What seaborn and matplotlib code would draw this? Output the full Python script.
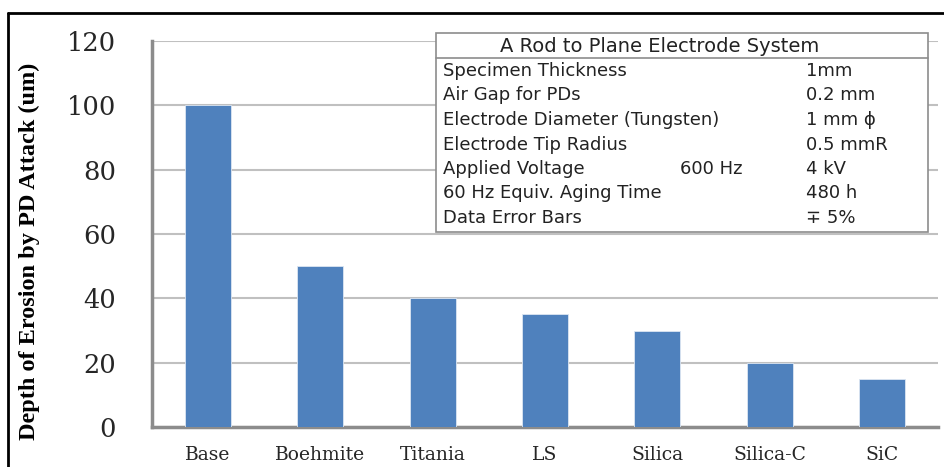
import matplotlib
matplotlib.use("Agg")
import matplotlib.pyplot as plt
import seaborn as sns
import pandas as pd
from matplotlib.patches import Rectangle
from matplotlib.lines import Line2D

W, H = 944, 467

materials = ["Base", "Boehmite", "Titania", "LS", "Silica", "Silica-C", "SiC"]
depth = [100, 50, 40, 35, 30, 20, 15]

table_title = "A Rod to Plane Electrode System"
table_labels = ["Specimen Thickness", "Air Gap for PDs", "Electrode Diameter (Tungsten)",
                "Electrode Tip Radius", "Applied Voltage", "60 Hz Equiv. Aging Time",
                "Data Error Bars"]
table_mid = ["", "", "", "", "600 Hz", "", ""]
table_values = ["1mm", "0.2 mm", "1 mm \u03d5", "0.5 mmR", "4 kV", "480 h", "\u2213 5%"]

df = pd.DataFrame({"material": materials, "depth": depth})

sns.set_style("white")
fig = plt.figure(figsize=(W / 100, H / 100), dpi=100)

def fx(px):
    return px / W

def fy(py):
    return 1 - py / H

ax = fig.add_axes([fx(152), fy(427), fx(938) - fx(152), fy(41) - fy(427)])

sns.barplot(data=df, x="material", y="depth", color="#4F81BD", saturation=1,
            width=0.41, edgecolor="#dce6f2", linewidth=0.6, ax=ax, zorder=3)

ax.set_ylim(0, 120)
ax.set_xlim(-0.5, len(materials) - 0.5)
ax.set_yticks(range(0, 121, 20))
ax.yaxis.grid(True, color="#c0c0c0", linewidth=1.5, zorder=0)
ax.set_axisbelow(True)

for side in ["top", "right"]:
    ax.spines[side].set_visible(False)
for side in ["left", "bottom"]:
    ax.spines[side].set_color("#8c8c8c")
    ax.spines[side].set_linewidth(2.5)

ax.tick_params(axis="y", direction="inout", length=10, width=2.5, color="#8c8c8c",
               pad=21, labelsize=18.5)
ax.set_xticks([i - 0.5 for i in range(len(materials) + 1)], minor=True)
ax.tick_params(axis="x", which="minor", direction="out", length=5, width=2.5, color="#8c8c8c")
ax.tick_params(axis="x", which="major", length=0, pad=14, labelsize=13.5)
for lab in ax.get_xticklabels() + ax.get_yticklabels():
    lab.set_fontfamily("DejaVu Serif")

ax.set_xlabel("")
ax.set_ylabel("Depth of Erosion by PD Attack (um)", fontfamily="Liberation Serif",
              fontweight="bold", fontsize=17.5, color="black")
ax.yaxis.set_label_coords(-0.1425, 0.456)

# info table
x0, x1, y0, y1 = 436, 928, 33, 232
ax_box = Rectangle((fx(x0), fy(y1)), fx(x1) - fx(x0), fy(y0) - fy(y1), transform=fig.transFigure,
                   facecolor="white", edgecolor="#8c8c8c", linewidth=1.2, zorder=5)
fig.patches.append(ax_box)
fig.add_artist(Line2D([fx(x0), fx(x1)], [fy(58), fy(58)], color="#8c8c8c", linewidth=1.2, zorder=6))
fig.text(fx(660), fy(46), table_title, ha="center", va="center", fontsize=14,
         family="DejaVu Sans", color="#222222", zorder=7)
row_h = 24.5
for i, (lab, mid, val) in enumerate(zip(table_labels, table_mid, table_values)):
    yc = 71 + i * row_h
    fig.text(fx(443), fy(yc), lab, ha="left", va="center", fontsize=13, family="DejaVu Sans",
             color="#222222", zorder=7)
    if mid:
        fig.text(fx(680), fy(yc), mid, ha="left", va="center", fontsize=13, family="DejaVu Sans",
                 color="#222222", zorder=7)
    fig.text(fx(806), fy(yc), val, ha="left", va="center", fontsize=13, family="DejaVu Sans",
             color="#222222", zorder=7)

# outer black frame (top and left)
fig.add_artist(Line2D([fx(8), 1.0], [fy(13), fy(13)], color="black", linewidth=2))
fig.add_artist(Line2D([fx(8), fx(8)], [fy(13), 0.0], color="black", linewidth=2))

fig.savefig("out.png", dpi=100)
